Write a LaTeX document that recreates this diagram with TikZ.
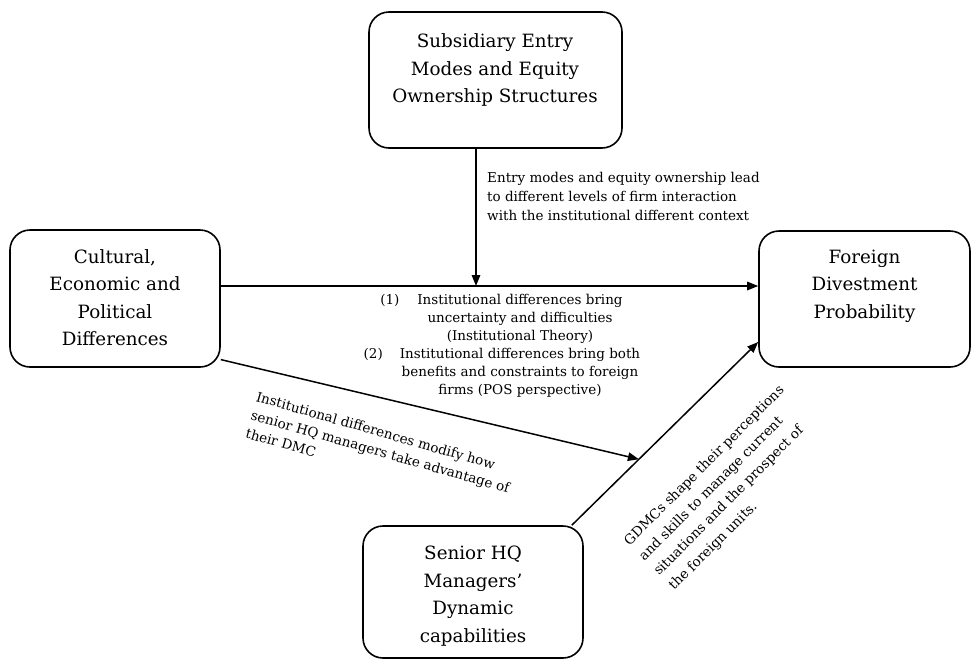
\documentclass[tikz,border=0pt]{standalone}
\usepackage{fontspec}
\setmainfont{DejaVu Serif}
\usetikzlibrary{arrows.meta,calc}

\newcommand{\boxfont}{\fontsize{18.3}{27.5}\selectfont}
\newcommand{\notefont}{\fontsize{13.5}{19}\selectfont}

\begin{document}
\begin{tikzpicture}[x=1pt, y=-1pt,
  box/.style={draw, line width=1.6pt, rounded corners=20pt},
  boxtext/.style={align=center, font=\boxfont, inner sep=0pt},
  note/.style={font=\notefont, inner sep=0pt},
  link/.style={line width=1.5pt, -{Triangle[length=11pt,width=8.5pt]}}]
\useasboundingbox (0,0) rectangle (972,662);
% the four boxes
\node[box, minimum width=253pt, minimum height=136pt] (sub) at (495.5,80) {};
\node[box, minimum width=210pt, minimum height=137pt] (cult) at (115,298.5) {};
\node[box, minimum width=211pt, minimum height=136pt] (prob) at (864.5,299) {};
\node[box, minimum width=220pt, minimum height=132pt] (hq) at (473,592) {};
\node[boxtext] (subt) at (495,70) {Subsidiary Entry\\Modes and Equity\\Ownership Structures};
\node[boxtext] (cultt) at (115,297.5) {Cultural,\\Economic and\\Political\\Differences};
\node[boxtext] (probt) at (864.5,286) {Foreign\\Divestment\\Probability};
\node[boxtext] (hqt) at (473,596) {Senior HQ\\Managers'\\Dynamic\\capabilities};
% connectors
\coordinate (meet) at (476,286);
\coordinate (hqout) at ($(hq.north east)+(-12,0)$);
\coordinate (probin) at ($(prob.west)+(0,43)$);
\draw[link] (sub.south -| meet) -- (meet);
\draw[link] (cult.east |- meet) -- (prob.west |- meet);
\draw[link] (hqout) -- (probin);
\draw[link] (cult.-30) -- ($(hqout)!0.36!(probin)$);
% notes
\node[note, align=left, anchor=north west] (entry) at (487,172)
  {Entry modes and equity ownership lead\\to different levels of firm interaction\\with the institutional different context};
\node[note, align=center, anchor=north, font=\fontsize{13.5}{18}\selectfont] (inst) at (520,294)
  {\llap{(1)\hspace{18pt}}Institutional differences bring\\uncertainty and difficulties\\(Institutional Theory)\\
   \llap{(2)\hspace{17pt}}Institutional differences bring both\\benefits and constraints to foreign\\firms (POS perspective)};
\node[note, align=left, anchor=north west, rotate=-16] (modify) at (258,391)
  {Institutional differences modify how\\senior HQ managers take advantage of\\their DMC};
\node[note, align=left, anchor=north west, rotate=45, font=\fontsize{13.5}{21}\selectfont] (gdmc) at (622,539)
  {GDMCs shape their perceptions\\and skills to manage current\\situations and the prospect of\\the foreign units.};
\end{tikzpicture}
\end{document}
